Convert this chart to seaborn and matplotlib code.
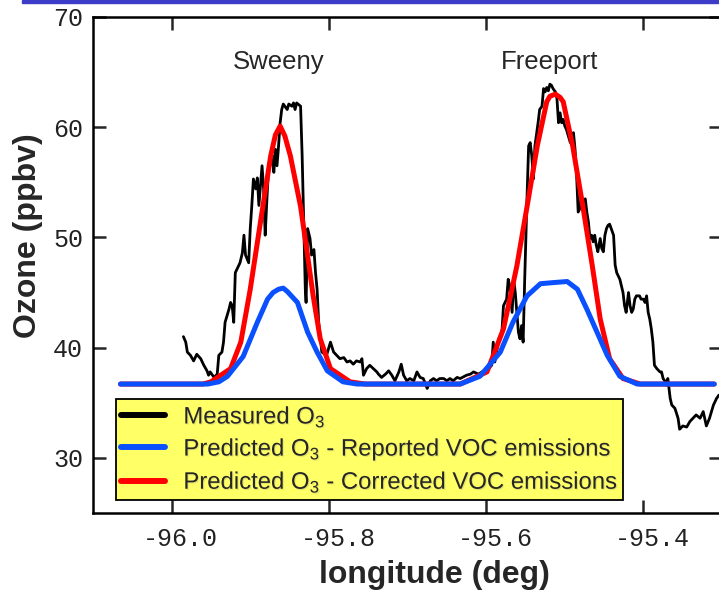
import numpy as np
import seaborn as sns
import matplotlib.pyplot as plt
import matplotlib.patheffects as pe
from matplotlib.patches import Rectangle
from matplotlib.ticker import FormatStrFormatter, MultipleLocator
from matplotlib.transforms import ScaledTranslation

# Measured ozone along the flight track (lon in deg, O3 in ppbv)
measured_lon_sweeny = [
    -95.985, -95.982, -95.980, -95.976, -95.972, -95.968, -95.963, -95.959, -95.955, -95.953,
    -95.951, -95.946, -95.942, -95.940, -95.936, -95.934, -95.932, -95.927, -95.925, -95.923,
    -95.921, -95.919, -95.917, -95.913, -95.910, -95.908, -95.906, -95.902, -95.900, -95.898,
    -95.896, -95.893, -95.891, -95.889, -95.885, -95.883, -95.881, -95.879, -95.877, -95.874,
    -95.872, -95.870, -95.868, -95.866, -95.864, -95.862, -95.860, -95.858, -95.853, -95.851,
    -95.847, -95.845, -95.843, -95.841, -95.836, -95.834, -95.832, -95.830, -95.829, -95.827,
    -95.824, -95.822, -95.819, -95.817, -95.815, -95.813, -95.809, -95.803, -95.798, -95.794,
    -95.790, -95.786, -95.781, -95.777, -95.773, -95.769, -95.765, -95.760, -95.758, -95.756,
    -95.752, -95.748]
measured_o3_sweeny = [
    41.0, 40.5, 39.6, 39.3, 38.8, 39.4, 39.0, 38.4, 37.9, 37.5,
    37.8, 37.3, 37.6, 39.3, 39.6, 40.5, 42.3, 43.5, 44.1, 43.8,
    42.3, 46.8, 47.1, 47.7, 48.6, 50.2, 48.4, 47.7, 50.8, 52.9,
    55.3, 54.4, 55.4, 52.9, 56.5, 54.4, 50.2, 53.2, 55.9, 56.8,
    57.4, 55.9, 58.0, 56.5, 58.3, 60.4, 61.6, 62.1, 61.6, 62.1,
    61.9, 62.2, 61.6, 62.2, 61.9, 57.4, 51.4, 45.3, 44.1, 50.8,
    49.9, 48.4, 48.9, 46.8, 45.3, 42.3, 39.6, 39.3, 40.5, 39.6,
    39.3, 39.0, 39.1, 38.7, 38.8, 38.5, 38.8, 38.7, 39.0, 37.5,
    38.1, 38.4]

measured_lon_mid = [
    -95.745, -95.739, -95.737, -95.733, -95.728, -95.724, -95.720, -95.716, -95.711, -95.708,
    -95.705, -95.701, -95.697, -95.692, -95.688, -95.684, -95.680, -95.675, -95.671, -95.667,
    -95.663, -95.659, -95.654, -95.650, -95.646, -95.642, -95.637, -95.633]
measured_o3_mid = [
    38.2, 37.8, 37.6, 37.3, 37.6, 37.9, 37.5, 37.0, 37.8, 38.5,
    37.5, 37.0, 37.2, 37.0, 37.8, 37.3, 37.2, 36.3, 37.0, 37.2,
    37.0, 37.2, 37.2, 37.0, 37.2, 37.0, 37.3, 37.2]

measured_lon_freeport = [
    -95.625, -95.620, -95.616, -95.610, -95.603, -95.597, -95.593, -95.591, -95.589, -95.584,
    -95.580, -95.578, -95.574, -95.572, -95.570, -95.567, -95.565, -95.563, -95.561, -95.559,
    -95.557, -95.555, -95.553, -95.551, -95.548, -95.546, -95.544, -95.542, -95.540, -95.538,
    -95.534, -95.532, -95.529, -95.527, -95.525, -95.523, -95.521, -95.519, -95.517, -95.515,
    -95.512, -95.510, -95.508, -95.506, -95.504, -95.502, -95.500, -95.498, -95.493, -95.491,
    -95.489, -95.487, -95.485, -95.483, -95.481, -95.479, -95.477, -95.474, -95.472, -95.470,
    -95.468, -95.466, -95.464, -95.462, -95.460, -95.458, -95.455, -95.453, -95.451, -95.449,
    -95.447, -95.445, -95.443, -95.441, -95.438, -95.436, -95.434, -95.430, -95.428, -95.426,
    -95.424, -95.422, -95.419, -95.417, -95.415, -95.413, -95.411, -95.409, -95.405, -95.403,
    -95.400, -95.398, -95.396, -95.394, -95.392, -95.390, -95.388, -95.386, -95.383, -95.379]
measured_o3_freeport = [
    37.5, 37.6, 37.8, 37.6, 37.9, 38.1, 38.4, 40.5, 38.7, 40.8,
    41.4, 43.8, 44.4, 46.2, 45.6, 43.2, 46.2, 45.0, 43.2, 41.4,
    40.8, 42.0, 40.5, 46.2, 53.8, 58.3, 58.6, 57.4, 55.3, 58.3,
    60.4, 61.6, 61.9, 63.5, 63.2, 63.6, 63.3, 63.9, 63.8, 63.5,
    63.2, 62.6, 60.4, 61.3, 60.4, 60.7, 60.1, 59.8, 58.6, 59.2,
    59.5, 58.0, 55.6, 52.3, 52.6, 53.8, 52.9, 53.5, 52.3, 51.4,
    49.9, 50.2, 49.6, 50.2, 49.3, 48.7, 49.9, 49.0, 48.7, 50.2,
    50.8, 51.1, 51.2, 50.8, 50.2, 47.5, 46.8, 46.2, 45.6, 45.0,
    43.8, 43.2, 45.0, 43.8, 43.2, 43.5, 44.4, 44.7, 44.7, 44.4,
    44.4, 44.1, 44.7, 43.2, 42.6, 41.7, 40.5, 38.4, 38.1, 37.8]

measured_lon_east = [
    -95.377, -95.375, -95.373, -95.371, -95.369, -95.366, -95.364, -95.360, -95.356, -95.354,
    -95.350, -95.345, -95.341, -95.337, -95.333, -95.328, -95.324, -95.320, -95.316, -95.311,
    -95.307, -95.304]
measured_o3_east = [
    37.8, 37.2, 37.0, 36.6, 37.2, 35.4, 34.8, 34.5, 33.6, 32.6,
    32.9, 32.8, 33.3, 33.6, 33.9, 33.6, 34.2, 32.9, 33.6, 34.8,
    35.4, 35.7]

# Model with reported VOC emissions
reported_lon = [-96.065, -95.954, -95.940, -95.929, -95.909, -95.891, -95.878, -95.871, -95.864,
                -95.858, -95.853, -95.840, -95.827, -95.815, -95.802, -95.782, -95.764, -95.633,
                -95.608, -95.582, -95.566, -95.548, -95.531, -95.515, -95.497, -95.484, -95.472,
                -95.459, -95.446, -95.430, -95.408, -95.310]
reported_o3 = [36.7, 36.7, 36.9, 37.4, 39.2, 42.3, 44.4, 45.0, 45.3,
               45.4, 45.1, 44.1, 41.4, 39.6, 37.9, 36.9, 36.7, 36.7,
               37.4, 39.6, 42.3, 44.7, 45.8, 45.9, 46.0, 45.3, 43.5,
               41.4, 39.3, 37.4, 36.7, 36.7]

# Model with corrected VOC emissions
corrected_lon = [-96.065, -95.960, -95.950, -95.925, -95.912, -95.900, -95.887, -95.874, -95.868,
                 -95.862, -95.856, -95.849, -95.836, -95.827, -95.820, -95.811, -95.798, -95.773,
                 -95.754, -95.633, -95.599, -95.578, -95.561, -95.548, -95.535, -95.523, -95.519,
                 -95.512, -95.506, -95.502, -95.490, -95.477, -95.465, -95.455, -95.443, -95.426,
                 -95.404, -95.310]
corrected_o3 = [36.7, 36.7, 36.9, 38.1, 40.5, 45.3, 51.4, 57.4, 59.3,
                60.1, 59.2, 57.4, 52.8, 48.3, 44.7, 40.8, 38.1, 36.9,
                36.7, 36.7, 37.8, 41.7, 47.4, 52.8, 58.3, 62.3, 62.8,
                63.0, 62.7, 62.3, 58.3, 52.8, 47.4, 42.6, 39.0, 37.2,
                36.7, 36.7]

measured_lon = np.concatenate([measured_lon_sweeny, measured_lon_mid,
                               measured_lon_freeport, measured_lon_east])
measured_o3 = np.concatenate([measured_o3_sweeny, measured_o3_mid,
                              measured_o3_freeport, measured_o3_east])

sns.set_theme(style="ticks")
plt.rcParams['font.family'] = ['Liberation Sans', 'DejaVu Sans']
plt.rcParams['mathtext.fontset'] = 'custom'
plt.rcParams['mathtext.rm'] = 'Liberation Sans'
plt.rcParams['mathtext.it'] = 'Liberation Sans:italic'
plt.rcParams['mathtext.bf'] = 'Liberation Sans:bold'
plt.rcParams['mathtext.default'] = 'regular'

fig = plt.figure(figsize=(7.19, 5.92), dpi=100)
ax = fig.add_axes([0.1293, 0.1334, 0.875, 0.838])

sns.lineplot(x=measured_lon, y=measured_o3, sort=False, estimator=None,
             color='black', linewidth=2.0, ax=ax, label='Measured O$_3$', zorder=2)
sns.lineplot(x=reported_lon, y=reported_o3, sort=False, estimator=None,
             color='#0A50FF', linewidth=3.6, ax=ax,
             label='Predicted O$_3$ - Reported VOC emissions', zorder=4)
sns.lineplot(x=corrected_lon, y=corrected_o3, sort=False, estimator=None,
             color='#FF0000', linewidth=3.6, ax=ax,
             label='Predicted O$_3$ - Corrected VOC emissions', zorder=3)

ax.set_xlim(-96.1, -95.3)
ax.set_ylim(25, 70)
ax.xaxis.set_major_locator(MultipleLocator(0.2))
ax.xaxis.set_major_formatter(FormatStrFormatter('%.1f'))
ax.yaxis.set_major_locator(MultipleLocator(10))

for side in ['left', 'right', 'top', 'bottom']:
    ax.spines[side].set_visible(True)
    ax.spines[side].set_linewidth(1.8)
    ax.spines[side].set_color('black')
ax.tick_params(direction='in', length=9.5, width=1.8, top=True, right=True,
               labelsize=18, labelcolor='#222222', pad=7,
               labelfontfamily='Liberation Mono')
ax.tick_params(axis='x', pad=10)

# the x tick labels sit a little right of their ticks in the original
shift = ScaledTranslation(9 / 100, 0, fig.dpi_scale_trans)
for lbl in ax.get_xticklabels():
    lbl.set_transform(lbl.get_transform() + shift)

ax.set_xlabel('longitude (deg)', fontsize=23, fontweight='bold')
ax.set_ylabel('Ozone (ppbv)', fontsize=23, fontweight='bold')
ax.xaxis.set_label_coords(0.542, -0.095)
ax.yaxis.set_label_coords(-0.08, 0.56)

ax.text(-95.864, 65.9, 'Sweeny', fontsize=18.5, ha='center', va='center')
ax.text(-95.519, 65.9, 'Freeport', fontsize=18.5, ha='center', va='center')

leg = ax.legend(loc='lower left', bbox_to_anchor=(0.0366, 0.0262), borderaxespad=0,
                fontsize=17.2, frameon=True, fancybox=False, framealpha=1,
                facecolor='#FFFF66', edgecolor='black', handlelength=1.85,
                handletextpad=0.75, labelspacing=0.3, borderpad=0.22)
leg.get_frame().set_linewidth(1.3)
for h in leg.legend_handles:
    h.set_linewidth(4.3)
# faint drop shadow on the legend text, as on the slide
for t in leg.get_texts():
    t.set_path_effects([pe.withSimplePatchShadow(offset=(0.8, -0.8), shadow_rgbFace='gray',
                                                 alpha=0.22)])

# blue rule along the top edge of the slide
fig.add_artist(Rectangle((22 / 719, 1 - 3 / 592), 1, 3 / 592,
                         transform=fig.transFigure, color='#3C3CC8'))

fig.savefig('out.png', dpi=100)
